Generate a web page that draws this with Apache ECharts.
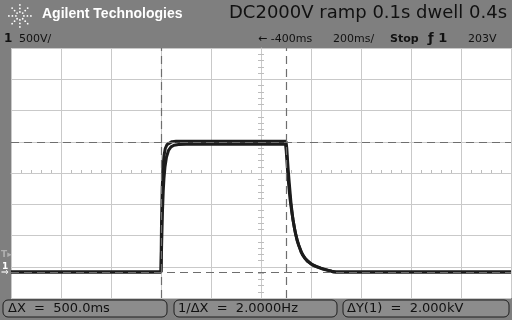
<!DOCTYPE html>
<html>
<head>
<meta charset="utf-8">
<script src="https://cdn.jsdelivr.net/npm/echarts@6/dist/echarts.min.js"></script>
<style>
html, body { margin: 0; padding: 0; background: #7f7f7f; }
#main { width: 512px; height: 320px; }
</style>
</head>
<body>
<div id="main"></div>
<script>
// time in ms (200ms/div, delay -400ms), volts
var timeAxis = { min: -1400, max: 600, step: 200 };
var voltAxis = { min: -400, max: 3446 };

var traceATime = [-1400, -800, -797, -794, -791, -788, -784, -778, -770, -760, -748, -730, -700, -600, -500, -400, -302, -299, -296, -293, -290, -284, -276, -266, -256, -240, -224, -200, -176, -150, -116, -100, 600];
var traceAVolts = [0, 0, 500, 950, 1250, 1450, 1620, 1770, 1870, 1925, 1950, 1960, 1965, 1968, 1965, 1968, 1965, 1860, 1690, 1520, 1375, 1130, 900, 670, 490, 310, 210, 125, 80, 40, 12, 0, 0];

var traceBTime = [-1400, -800, -798, -795, -792, -788, -783, -776, -768, -756, -740, -600, -400, -300, -297, -294, -291, -287, -280, -272, -262, -250, -234, -216, -190, -160, -130, -110, 600];
var traceBVolts = [0, 0, 750, 1300, 1600, 1790, 1900, 1960, 1990, 2005, 2010, 2010, 2012, 2010, 1910, 1730, 1560, 1370, 1060, 800, 590, 420, 265, 170, 100, 60, 25, 0, 0];

// cursor positions
var cursorX = [-800, -300];
var cursorY = [0, 2000];

function pairs(t, v) {
    var out = [];
    for (var i = 0; i < t.length; i++) out.push([t[i], v[i]]);
    return out;
}

var chart = echarts.init(document.getElementById('main'));
var gridColor = '#c9c9c9';
var font = 'DejaVu Sans';

var option = {
    animation: false,
    backgroundColor: '#7f7f7f',
    grid: { left: 11, top: 48, width: 500, height: 250, show: true, backgroundColor: '#ffffff', borderWidth: 0 },
    xAxis: [
        {   // data axis
            type: 'value', min: timeAxis.min, max: timeAxis.max, interval: timeAxis.step,
            axisLine: { show: false }, axisTick: { show: false }, axisLabel: { show: false },
            splitLine: { show: true, lineStyle: { color: gridColor, width: 1 } }
        },
        {   // center axis, ticks down
            type: 'value', min: -5, max: 5, interval: 1,
            axisLine: { show: true, onZero: true, onZeroAxisIndex: 0, lineStyle: { color: gridColor } },
            axisTick: { show: false }, axisLabel: { show: false }, splitLine: { show: false },
            minorTick: { show: true, splitNumber: 5, length: 3, lineStyle: { color: '#bdbdbd' } }
        },
        {   // center axis, ticks up
            type: 'value', min: -5, max: 5, interval: 1, position: 'top',
            axisLine: { show: false, onZero: true, onZeroAxisIndex: 0 },
            axisTick: { show: false }, axisLabel: { show: false }, splitLine: { show: false },
            minorTick: { show: true, splitNumber: 5, length: 3, lineStyle: { color: '#bdbdbd' } }
        }
    ],
    yAxis: [
        {   // grid divisions
            type: 'value', min: -4, max: 4, interval: 1,
            axisLine: { show: true, onZero: true, onZeroAxisIndex: 1, lineStyle: { color: gridColor } },
            axisTick: { show: false }, axisLabel: { show: false },
            splitLine: { show: true, lineStyle: { color: gridColor, width: 1 } },
            minorTick: { show: true, splitNumber: 5, length: 3, lineStyle: { color: '#bdbdbd' } }
        },
        {   // volts
            type: 'value', min: voltAxis.min, max: voltAxis.max, show: false,
            splitLine: { show: false }
        },
        {   // center vertical, ticks other side
            type: 'value', min: -4, max: 4, interval: 1, position: 'right',
            axisLine: { show: false, onZero: true, onZeroAxisIndex: 1 },
            axisTick: { show: false }, axisLabel: { show: false }, splitLine: { show: false },
            minorTick: { show: true, splitNumber: 5, length: 3, lineStyle: { color: '#bdbdbd' } }
        }
    ],
    series: [
        {
            type: 'line', xAxisIndex: 0, yAxisIndex: 1, showSymbol: false, silent: true,
            data: pairs(traceBTime, traceBVolts),
            lineStyle: { color: '#1c1c1c', width: 3 }
        },
        {
            type: 'line', xAxisIndex: 0, yAxisIndex: 1, showSymbol: false, silent: true,
            data: pairs(traceATime, traceAVolts),
            lineStyle: { color: '#1c1c1c', width: 3 },
            markLine: {
                silent: true, symbol: 'none', label: { show: false },
                lineStyle: { color: '#6e6e6e', type: [8, 5], width: 1.2 },
                data: [
                    { xAxis: cursorX[0] }, { xAxis: cursorX[1] },
                    { yAxis: cursorY[0] }, { yAxis: cursorY[1] }
                ]
            }
        }
    ],
    graphic: [
        // logo star
        { type: 'group', left: 8, top: 4, children: (function () {
            var c = [];
            for (var i = 0; i < 8; i++) {
                var a = i * Math.PI / 4;
                for (var r = 4; r <= 11; r += 3.5) {
                    c.push({ type: 'circle', shape: { cx: 12 + Math.cos(a) * r, cy: 12 + Math.sin(a) * r, r: 0.9 }, style: { fill: '#ffffff' } });
                }
            }
            return c;
        })() },
        { type: 'text', left: 42, top: 7, style: { text: 'Agilent Technologies', fill: '#ffffff', font: 'bold 14px "Liberation Sans"' } },
        { type: 'text', left: 229, top: 4, style: { text: 'DC2000V ramp 0.1s dwell 0.4s', fill: '#111111', font: '18px ' + font } },
        { type: 'text', left: 4, top: 33, style: { text: '1', fill: '#111111', font: 'bold 12px ' + font } },
        { type: 'text', left: 19, top: 34, style: { text: '500V/', fill: '#111111', font: '11px ' + font } },
        { type: 'text', left: 258, top: 34, style: { text: '\u2190 -400ms', fill: '#111111', font: '11px ' + font } },
        { type: 'text', left: 333, top: 34, style: { text: '200ms/', fill: '#111111', font: '11px ' + font } },
        { type: 'text', left: 390, top: 34, style: { text: 'Stop', fill: '#111111', font: 'bold 11px ' + font } },
        { type: 'text', left: 428, top: 32, style: { text: '\u0192 1', fill: '#111111', font: 'bold 13px ' + font } },
        { type: 'text', left: 468, top: 34, style: { text: '203V', fill: '#111111', font: '11px ' + font } },
        // left strip markers
        { type: 'text', left: 1, top: 250, style: { text: 'T\u25B8', fill: '#b0b0b0', font: 'bold 9px ' + font } },
        { type: 'text', left: 2, top: 262, style: { text: '1', fill: '#ffffff', font: 'bold 9px ' + font } },
        { type: 'text', left: 1, top: 268, style: { text: '\u21D2', fill: '#ffffff', font: '9px ' + font } },
        // bottom measurement boxes
        { type: 'rect', shape: { x: 3, y: 300, width: 164, height: 17, r: 5 }, style: { fill: '#8c8c8c', stroke: '#1e1e1e', lineWidth: 1 } },
        { type: 'rect', shape: { x: 174, y: 300, width: 163, height: 17, r: 5 }, style: { fill: '#8c8c8c', stroke: '#1e1e1e', lineWidth: 1 } },
        { type: 'rect', shape: { x: 343, y: 300, width: 166, height: 17, r: 5 }, style: { fill: '#8c8c8c', stroke: '#1e1e1e', lineWidth: 1 } },
        { type: 'text', left: 8, top: 302, style: { text: '\u0394X  =  500.0ms', fill: '#111111', font: '13px ' + font } },
        { type: 'text', left: 178, top: 302, style: { text: '1/\u0394X  =  2.0000Hz', fill: '#111111', font: '13px ' + font } },
        { type: 'text', left: 347, top: 302, style: { text: '\u0394Y(1)  =  2.000kV', fill: '#111111', font: '13px ' + font } }
    ]
};
chart.setOption(option);
</script>
</body>
</html>
